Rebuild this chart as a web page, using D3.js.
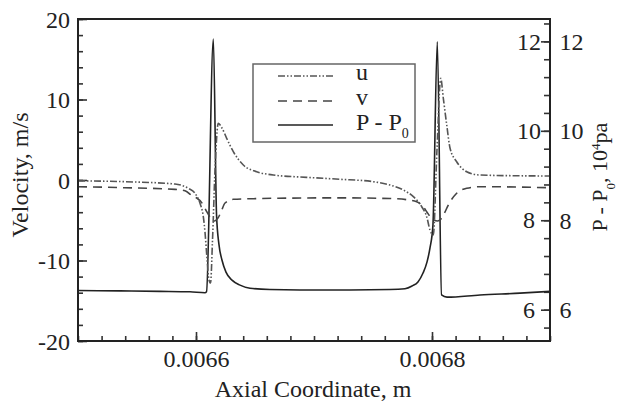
<!DOCTYPE html>
<html>
<head>
<meta charset="UTF-8">
<title>Velocity and pressure along axis</title>
<script src="https://d3js.org/d3.v7.min.js"></script>
<style>
  body { margin: 0; background: #fff; }
  svg { display: block; }
  text { font-family: "Liberation Serif", "DejaVu Serif", serif; fill: #222; }
</style>
</head>
<body>
<svg id="chart" width="617" height="402"></svg>
<script>
// values
const uX = [0.0065000, 0.0065398, 0.0065822, 0.0065935, 0.0065992, 0.0066034, 0.0066062, 0.0066076,
  0.0066091, 0.0066110, 0.0066123, 0.0066140, 0.0066161, 0.0066189, 0.0066220, 0.0066260, 0.0066316,
  0.0066401, 0.0066514, 0.0066655, 0.0066938, 0.0067220, 0.0067503, 0.0067644, 0.0067757, 0.0067842,
  0.0067913, 0.0067955, 0.0067983, 0.0068011, 0.0068042, 0.0068074, 0.0068096, 0.0068125, 0.0068153,
  0.0068209, 0.0068294, 0.0068407, 0.0068703, 0.0069000];
const uVal = [-0.1, -0.21, -0.5, -1.03, -1.65, -2.9, -4.56, -6.42,
  -9.32, -12.42, -12.8, -7.45, 1.24, 7.04, 6.46, 5.18, 3.52,
  1.86, 1.03, 0.62, 0.33, 0.09, -0.21, -0.62, -1.24, -2.07,
  -3.32, -4.56, -6.21, -6.83, 3.7, 12.63, 10.15, 6.83, 3.94,
  2.27, 1.03, 0.62, 0.53, 0.5];

const vX = [0.0065000, 0.0065398, 0.0065822, 0.0065907, 0.0065977, 0.0066006, 0.0066062, 0.0066091,
  0.0066127, 0.0066157, 0.0066186, 0.0066212, 0.0066246, 0.0066316, 0.0066486, 0.0066655, 0.0067220,
  0.0067644, 0.0067786, 0.0067870, 0.0067926, 0.0067955, 0.0067998, 0.0068047, 0.0068076, 0.0068106,
  0.0068138, 0.0068209, 0.0068294, 0.0068407, 0.0069000];
const vVal = [-0.83, -0.96, -1.16, -1.33, -2.07, -2.24, -3.11, -3.94,
  -4.76, -5.09, -4.72, -3.98, -2.86, -2.4, -2.32, -2.27, -2.22,
  -2.3, -2.45, -2.69, -3.32, -3.94, -4.76, -5.09, -4.84, -4.1,
  -3.11, -1.65, -1.03, -0.83, -0.96];

const pX = [0.0065000, 0.0065356, 0.0065695, 0.0065949, 0.0066076, 0.0066089, 0.0066147, 0.0066174,
  0.0066195, 0.0066220, 0.0066254, 0.0066305, 0.0066373, 0.0066458, 0.0066627, 0.0066881, 0.0067305,
  0.0067644, 0.0067771, 0.0067831, 0.0067881, 0.0067924, 0.0067958, 0.0067983, 0.0068008, 0.0068045,
  0.0068081, 0.0068127, 0.0068407, 0.0068746, 0.0069000];
const pVal = [6.43, 6.42, 6.41, 6.40, 6.38, 6.40, 12.05, 8.12,
  7.45, 7.11, 6.84, 6.66, 6.55, 6.48, 6.45, 6.44, 6.44,
  6.45, 6.47, 6.53, 6.62, 6.82, 7.07, 7.38, 7.89, 11.99,
  6.33, 6.28, 6.33, 6.37, 6.41];

const xTicks = [0.0066, 0.0068];
const xTickLabels = ["0.0066", "0.0068"];
const yTicks = [-20, -10, 0, 10, 20];
const yTickLabels = ["-20", "-10", "0", "10", "20"];
const pTicks = [6, 8, 10, 12];
const legendNames = ["u", "v", "P - P"];

const svg = d3.select("#chart");
const mLeft = 78, mRight = 550, mTop = 19, mBottom = 341;

const x = d3.scaleLinear().domain([0.0065, 0.0069]).range([mLeft, mRight]);
const y = d3.scaleLinear().domain([-20, 20]).range([mBottom, mTop]);
const yP = d3.scaleLinear().domain([5.3, 12.5]).range([mBottom, mTop]);

svg.append("rect").attr("width", 617).attr("height", 402).attr("fill", "#fff");

// minor ticks
svg.append("g").attr("transform", `translate(0,${mBottom})`)
  .call(d3.axisBottom(x).tickValues(d3.range(0, 21).map(i => 0.0065 + i * 0.00002)).tickSize(-5).tickFormat(""));
svg.append("g").attr("transform", `translate(${mLeft},0)`)
  .call(d3.axisLeft(y).tickValues(d3.range(-20, 21, 2)).tickSize(-5).tickFormat(""));
svg.append("g").attr("transform", `translate(${mRight},0)`)
  .call(d3.axisRight(yP).tickValues(d3.range(0, 18).map(i => 5.6 + i * 0.4)).tickSize(-6).tickFormat(""));

// major ticks with labels
svg.append("g").attr("class", "ax").attr("transform", `translate(0,${mBottom})`)
  .call(d3.axisBottom(x).tickValues(xTicks).tickSize(-9).tickPadding(9)
    .tickFormat((d, i) => xTickLabels[i]));
svg.append("g").attr("class", "ax").attr("transform", `translate(${mLeft},0)`)
  .call(d3.axisLeft(y).tickValues(yTicks).tickSize(-9).tickPadding(8)
    .tickFormat((d, i) => yTickLabels[i]));
svg.append("g").attr("class", "ax").attr("transform", `translate(${mRight},0)`)
  .call(d3.axisRight(yP).tickValues(pTicks).tickSize(-9).tickPadding(9.5));

// inner copy of the pressure labels
svg.append("g").selectAll("text").data(pTicks).join("text")
  .attr("x", 529).attr("y", d => yP(d)).attr("dy", "0.34em")
  .attr("text-anchor", "middle").style("font-size", "24px").text(d => d);

svg.selectAll(".domain").remove();
svg.selectAll(".tick line").attr("stroke", "#333").attr("stroke-width", 1.6);
svg.selectAll(".ax text").style("font-size", "24px").attr("fill", "#222");
svg.selectAll(".ax .tick text").filter(function () { return this.getAttribute("dy") === "0.32em"; })
  .attr("dy", "0.34em");

// curves
const line = d3.line().curve(d3.curveMonotoneX);
const uPts = uX.map((d, i) => [x(d), y(uVal[i])]);
const vPts = vX.map((d, i) => [x(d), y(vVal[i])]);
const pPts = pX.map((d, i) => [x(d), yP(pVal[i])]);

const styles = [
  { stroke: "#555", dash: "7,2,1.5,2,1.5,2" },
  { stroke: "#444", dash: "9,6" },
  { stroke: "#222", dash: null }
];

svg.append("path").attr("d", line(pPts)).attr("fill", "none")
  .attr("stroke", styles[2].stroke).attr("stroke-width", 1.6);
svg.append("path").attr("d", line(vPts)).attr("fill", "none")
  .attr("stroke", styles[1].stroke).attr("stroke-width", 1.6).attr("stroke-dasharray", styles[1].dash);
svg.append("path").attr("d", line(uPts)).attr("fill", "none")
  .attr("stroke", styles[0].stroke).attr("stroke-width", 1.6).attr("stroke-dasharray", styles[0].dash);

// frame
svg.append("rect").attr("x", mLeft).attr("y", mTop).attr("width", mRight - mLeft).attr("height", mBottom - mTop)
  .attr("fill", "none").attr("stroke", "#222").attr("stroke-width", 2);

// legend
const lg = svg.append("g");
lg.append("rect").attr("x", 253).attr("y", 64).attr("width", 162).attr("height", 78)
  .attr("fill", "#fff").attr("stroke", "#666").attr("stroke-width", 1.5);
const rows = [76, 101, 125];
legendNames.forEach((name, i) => {
  lg.append("line").attr("x1", 278).attr("x2", 333).attr("y1", rows[i]).attr("y2", rows[i])
    .attr("stroke", styles[i].stroke).attr("stroke-width", 1.6)
    .attr("stroke-dasharray", styles[i].dash);
  const t = lg.append("text").attr("x", 356).attr("y", rows[i] + (i < 2 ? 4 : 5))
    .style("font-size", "24px").text(name);
  if (i === 2) t.append("tspan").attr("baseline-shift", "sub").style("font-size", "14px").text("0");
});

// axis titles
svg.append("text").attr("x", 313).attr("y", 397).attr("text-anchor", "middle")
  .style("font-size", "24px").text("Axial Coordinate, m");
svg.append("text").attr("transform", "translate(28,175) rotate(-90)").attr("text-anchor", "middle")
  .style("font-size", "24px").text("Velocity, m/s");
const rt = svg.append("text").attr("transform", "translate(607,177) rotate(-90)").attr("text-anchor", "middle")
  .style("font-size", "22px").text("P - P");
rt.append("tspan").attr("baseline-shift", "sub").style("font-size", "13px").text("0");
rt.append("tspan").text(", 10");
rt.append("tspan").attr("baseline-shift", "super").style("font-size", "13px").text("4");
rt.append("tspan").text("pa");
</script>
</body>
</html>
